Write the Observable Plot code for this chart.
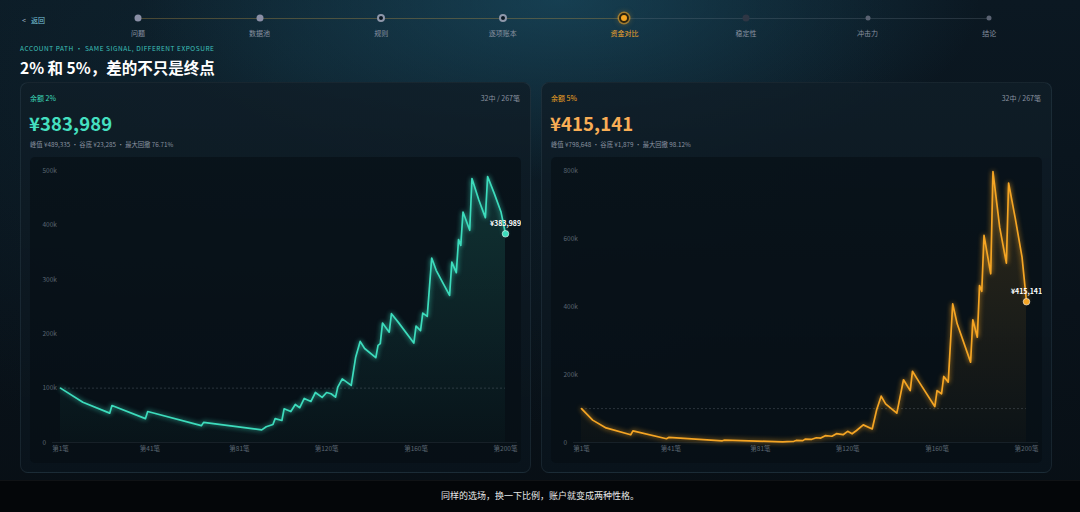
<!DOCTYPE html>
<html><head><meta charset="utf-8">
<script src="https://cdn.jsdelivr.net/npm/d3@7"></script>
<script src="https://cdn.jsdelivr.net/npm/@observablehq/plot@0.6"></script>
<style>
*{box-sizing:border-box}
html,body{margin:0;padding:0;width:1080px;height:512px;overflow:hidden;background:#081018;font-family:"Noto Sans CJK SC","Noto Sans",sans-serif}
#page{position:relative;width:1080px;height:512px;
 background:
  radial-gradient(ellipse 420px 180px at 560px 0px, rgba(30,90,115,0.55), rgba(30,90,115,0) 100%),
  radial-gradient(ellipse 600px 400px at 300px 60px, rgba(20,55,70,0.35), rgba(20,55,70,0) 100%),
  linear-gradient(180deg,#0b1822 0%,#09121a 60%,#080f15 100%);}
.abs{position:absolute;white-space:nowrap}
.back{left:22px;top:15px;font-size:7px;color:#7cc6dc}
.navline{position:absolute;top:17.5px;height:1px}
.dot{position:absolute;border-radius:50%;transform:translate(-50%,-50%)}
.step{position:absolute;top:28px;font-size:7px;color:#8891a0;transform:translateX(-50%)}
.eyebrow{left:20px;top:43px;font-size:6.5px;letter-spacing:0.55px;color:#3fc3bd}
.title{left:20px;top:56px;font-size:15.5px;font-weight:700;color:#ffffff}
.panel{position:absolute;top:82px;width:511px;height:391px;border-radius:8px;border:1px solid rgba(150,190,210,0.10);
 background:linear-gradient(180deg,rgba(16,30,40,0.85),rgba(10,20,28,0.9))}
.inner{position:absolute;left:9px;top:74px;width:491px;height:306px;border-radius:5px;background:rgba(6,12,18,0.55)}
.lab{left:9px;top:10px;font-size:7px}
.cnt{right:10px;top:10px;font-size:7px;color:#8a93a0}
.big{left:8px;top:27px;font-size:18.5px;font-weight:700;letter-spacing:0.1px}
.stats{left:9px;top:57px;font-size:6.3px;color:#8a93a0}
.chart{position:absolute;left:9px;top:74px}
#c2 g[aria-label="line"] path{filter:drop-shadow(0 0 2.5px rgba(60,225,195,0.85))}
#c5 g[aria-label="line"] path{filter:drop-shadow(0 0 2.5px rgba(255,170,30,0.85))}
.footer{position:absolute;left:0;top:480px;width:1080px;height:32px;background:#040609;border-top:1px solid rgba(255,255,255,0.05)}
.caption{position:absolute;left:0;width:1080px;top:489px;text-align:center;font-size:9px;color:#e6e6e6}
</style></head>
<body><div id="page"></div>
<script>
// ---- data ----
const steps = ["问题","数据池","规则","逐项账本","资金对比","稳定性","冲击力","结论"];
const activeStep = 4;
const xTickTrades = [1, 41, 81, 120, 160, 200];
const startCapital = 100000;

const trades2 = [1,11,23,24,39,40,64,65,91,93,96,97,100,101,104,106,108,110,113,115,118,120,122,124,125,127,131,133,135,137,142,143,144,145,148,149,152,159,160,162,163,165,167,169,175,176,178,179,180,181,184,185,188,191,192,195,198,200];
const balance2 = [100000,74000,54000,68000,44000,57000,31000,37000,23285,29000,33000,44000,40500,62000,57000,70000,64000,81000,75500,92000,83000,92000,89700,83400,101800,117000,105000,157000,186000,173000,156000,178600,181800,219700,203000,237000,221500,182900,214000,206000,238000,232000,339400,316800,270700,332000,312500,373300,362800,424000,390400,485600,447000,413800,489335,458000,424000,383989];

const trades5 = [1,6,12,23,24,39,40,64,65,91,93,96,97,100,101,104,106,108,110,113,115,118,120,122,124,127,131,133,135,137,142,143,145,148,149,152,159,160,162,163,165,167,169,175,176,178,179,180,181,184,185,188,191,192,195,198,200];
const balance5 = [100000,66000,43000,22700,34500,11000,15000,5000,7000,1879,2500,3500,6000,5500,10000,9500,14000,13000,20000,18500,26000,23000,33000,25700,35400,52000,40000,96500,136600,114000,86400,119000,185000,153000,210000,178000,106000,153000,143700,194700,178000,409000,350000,237000,362000,310600,463000,446000,610600,497600,798648,635000,529000,765000,660000,546600,415141];

const panels = [
  {id:"c2", left:20, label:"余额 2%", color:"#3ddcbc", big:"#45e0c0", value:"¥383,989", count:"32中 / 267笔",
   stats:"峰值 ¥489,335 · 谷底 ¥23,285 · 最大回撤 76.71%", trades:trades2, bal:balance2,
   yMax:506000, yTicks:[0,100000,200000,300000,400000,500000]},
  {id:"c5", left:541, label:"余额 5%", color:"#f5a524", big:"#f8ad55", value:"¥415,141", count:"32中 / 267笔",
   stats:"峰值 ¥798,648 · 谷底 ¥1,879 · 最大回撤 98.12%", trades:trades5, bal:balance5,
   yMax:811000, yTicks:[0,200000,400000,600000,800000]}
];

// ---- page chrome ----
const page = document.getElementById("page");
function el(tag, cls, parent, html){const e=document.createElement(tag); if(cls) e.className=cls; if(html!==undefined) e.innerHTML=html; (parent||page).appendChild(e); return e;}

el("div","abs back",page,'<span style="color:#9fb0c0;margin-right:5px">&lt;</span>返回');
const stepX = steps.map((_,i)=>138 + i*121.6);
const nl1 = el("div","navline"); nl1.style.left=stepX[0]+"px"; nl1.style.width=(stepX[activeStep]-stepX[0])+"px"; nl1.style.background="rgba(190,150,70,0.35)";
const nl2 = el("div","navline"); nl2.style.left=stepX[activeStep]+"px"; nl2.style.width=(stepX[7]-stepX[activeStep])+"px"; nl2.style.background="rgba(120,130,145,0.25)";
steps.forEach((s,i)=>{
  const d = el("div","dot"); d.style.left=stepX[i]+"px"; d.style.top="18px";
  if(i<2){d.style.width="7px";d.style.height="7px";d.style.background="#8a8fa6";}
  else if(i<activeStep){d.style.width="8px";d.style.height="8px";d.style.background="#0a1722";d.style.border="2px solid #8e97aa";}
  else if(i===activeStep){d.style.width="10px";d.style.height="10px";d.style.background="#f5a623";d.style.border="2px solid #2a2410";d.style.boxShadow="0 0 0 1.5px rgba(245,166,35,0.55),0 0 6px rgba(245,166,35,0.5)";}
  else if(i===activeStep+1){d.style.width="7px";d.style.height="7px";d.style.background="#2e3644";}
  else {d.style.width="5px";d.style.height="5px";d.style.background="#5a6272";}
  const t = el("div","step",page,s); t.style.left=stepX[i]+"px";
  if(i===activeStep) t.style.color="#f0a52c";
});
el("div","abs eyebrow",page,"ACCOUNT PATH · SAME SIGNAL, DIFFERENT EXPOSURE");
el("div","abs title",page,"2% 和 5%，差的不只是终点");
el("div","footer");
el("div","caption",page,"同样的选场，换一下比例，账户就变成两种性格。");

// ---- charts ----
panels.forEach(p=>{
  const pn = el("div","panel"); pn.style.left=p.left+"px";
  el("div","inner",pn);
  const l = el("div","abs lab",pn,p.label); l.style.color=p.color;
  el("div","abs cnt",pn,p.count);
  const b = el("div","abs big",pn,p.value); b.style.color=p.big;
  el("div","abs stats",pn,p.stats);
  const rows = p.trades.map((t,i)=>({t, v:p.bal[i]}));
  const last = rows[rows.length-1];
  const svg = Plot.plot({
    width:491, height:306,
    marginLeft:30, marginRight:16, marginTop:10, marginBottom:21,
    style:{background:"transparent", color:"#5b6672", fontSize:"6.5px", fontFamily:"Noto Sans CJK SC, Noto Sans, sans-serif"},
    x:{domain:[1,200], label:null},
    y:{domain:[0,p.yMax], label:null},
    marks:[
      Plot.ruleY([0],{stroke:"#8fa0b0", strokeOpacity:0.12, insetLeft:-8, insetRight:-12}),
      Plot.axisY({ticks:p.yTicks, tickSize:0, tickPadding:0, textAnchor:"start", dx:-18, label:null,
        tickFormat:d=> d===0 ? "0" : (d/1000)+"k"}),
      Plot.axisX({ticks:xTickTrades, tickSize:0, tickPadding:4, label:null, tickFormat:d=>`第${d}笔`}),
      Plot.areaY(rows,{x:"t", y:"v", fill:`url(#grad-${p.id})`}),
      Plot.ruleY([startCapital],{x1:1, x2:200, stroke:"#9aa6b2", strokeOpacity:0.35, strokeDasharray:"2,2", strokeWidth:0.7}),
      Plot.line(rows,{x:"t", y:"v", stroke:p.color, strokeWidth:1.7, strokeLinejoin:"round"}),
      Plot.dot([last],{x:"t", y:"v", r:3.3, fill:p.color, stroke:"rgba(255,255,255,0.55)", strokeWidth:1}),
      Plot.text([last],{x:"t", y:"v", text:d=>"¥"+d3.format(",")(d.v), dy:-10, fill:"#ffffff", fontWeight:700, fontSize:7})
    ]
  });
  d3.select(svg).insert("defs",":first-child").html(
    `<linearGradient id="grad-${p.id}" x1="0" y1="0" x2="0" y2="1">
       <stop offset="0" stop-color="${p.color}" stop-opacity="0.16"/>
       <stop offset="1" stop-color="${p.color}" stop-opacity="0.02"/>
     </linearGradient>`);
  const c = el("div","chart",pn); c.id=p.id; c.appendChild(svg);
});
</script></body></html>
